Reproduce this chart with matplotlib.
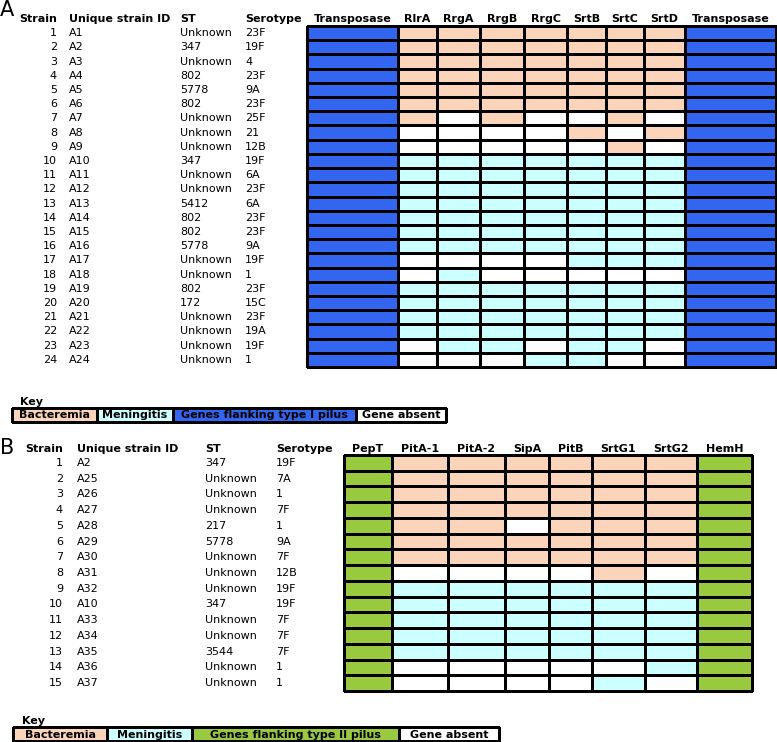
#!/usr/bin/python
# -*- encoding: utf-8 -*-
'''
Pilus gene presence tables (type I and type II pilus), drawn as coloured grids
'''

import numpy as np
import matplotlib
matplotlib.use('Agg')
import matplotlib.pyplot as plt
from matplotlib.colors import ListedColormap

#* Data
# B = bacteremia isolate, M = meningitis isolate, 0 = gene absent, F = flanking gene
genes_a = ['RlrA', 'RrgA', 'RrgB', 'RrgC', 'SrtB', 'SrtC', 'SrtD']
flank_a = 'Transposase'
strain_ids_a = ['A1', 'A2', 'A3', 'A4', 'A5', 'A6', 'A7', 'A8', 'A9', 'A10',
                'A11', 'A12', 'A13', 'A14', 'A15', 'A16', 'A17', 'A18', 'A19',
                'A20', 'A21', 'A22', 'A23', 'A24']
st_a = ['Unknown', '347', 'Unknown', '802', '5778', '802', 'Unknown', 'Unknown',
        'Unknown', '347', 'Unknown', 'Unknown', '5412', '802', '802', '5778',
        'Unknown', 'Unknown', '802', '172', 'Unknown', 'Unknown', 'Unknown',
        'Unknown']
serotype_a = ['23F', '19F', '4', '23F', '9A', '23F', '25F', '21', '12B', '19F',
              '6A', '23F', '6A', '23F', '23F', '9A', '19F', '1', '23F', '15C',
              '23F', '19A', '19F', '1']
presence_a = ['BBBBBBB', 'BBBBBBB', 'BBBBBBB', 'BBBBBBB', 'BBBBBBB', 'BBBBBBB',
              'B0B00B0', '0000B0B', '00000B0',
              'MMMMMMM', 'MMMMMMM', 'MMMMMMM', 'MMMMMMM', 'MMMMMMM', 'MMMMMMM',
              'MMMMMMM', '0000MMM', '0M00000', 'MMMMMMM', 'MMMMMMM', 'MMMMMMM',
              'MMMMMMM', '0MM0MM0', '000MM00']

genes_b = ['PitA-1', 'PitA-2', 'SipA', 'PitB', 'SrtG1', 'SrtG2']
flank_b = ['PepT', 'HemH']
strain_ids_b = ['A2', 'A25', 'A26', 'A27', 'A28', 'A29', 'A30', 'A31', 'A32',
                'A10', 'A33', 'A34', 'A35', 'A36', 'A37']
st_b = ['347', 'Unknown', 'Unknown', 'Unknown', '217', '5778', 'Unknown',
        'Unknown', 'Unknown', '347', 'Unknown', 'Unknown', '3544', 'Unknown',
        'Unknown']
serotype_b = ['19F', '7A', '1', '7F', '1', '9A', '7F', '12B', '19F', '19F',
              '7F', '7F', '7F', '1', '1']
presence_b = ['BBBBBB', 'BBBBBB', 'BBBBBB', 'BBBBBB', 'BB0BBB', 'BBBBBB',
              'BBBBBB', '0000B0', 'MMMMMM', 'MMMMMM', 'MMMMMM', 'MMMMMM',
              'MMMMMM', '00000M', '0000M0']

key_a = ['Bacteremia', 'Meningitis', 'Genes flanking type I pilus', 'Gene absent']
key_b = ['Bacteremia', 'Meningitis', 'Genes flanking type II pilus', 'Gene absent']

#* Style
PEACH = '#FBD4B9'
CYAN = '#CCFFFF'
BLUE = '#3366F0'
GREEN = '#98C93F'
CODES = {'F': 0, 'B': 1, 'M': 2, '0': 3}
FS = 8
LW = 0.75
plt.rc('font', family='DejaVu Sans', size=FS)

fig = plt.figure(figsize=(7.77, 7.42), dpi=100)
ax = fig.add_axes([0, 0, 1, 1])
ax.set_xlim(0, 777)
ax.set_ylim(742, 0)
ax.axis('off')


def draw_grid(codes, x_edges, y_top, y_bottom, flank_colour):
    n_rows = codes.shape[0]
    y_edges = np.linspace(y_top, y_bottom, n_rows + 1)
    cmap = ListedColormap([flank_colour, PEACH, CYAN, 'white'])
    ax.pcolormesh(x_edges, y_edges, codes, cmap=cmap, vmin=-0.5, vmax=3.5,
                  edgecolors='black', linewidth=LW)
    return (y_edges[:-1] + y_edges[1:]) / 2


def draw_table(rows_y, strain_x, id_x, st_x, sero_x, ids, sts, seros, header_y):
    ax.text(strain_x, header_y, 'Strain', ha='right', va='center', weight='bold')
    ax.text(id_x, header_y, 'Unique strain ID', ha='left', va='center', weight='bold')
    ax.text(st_x, header_y, 'ST', ha='left', va='center', weight='bold')
    ax.text(sero_x, header_y, 'Serotype', ha='left', va='center', weight='bold')
    for i, y in enumerate(rows_y):
        ax.text(strain_x, y, str(i + 1), ha='right', va='center')
        ax.text(id_x, y, ids[i], ha='left', va='center')
        ax.text(st_x, y, sts[i], ha='left', va='center')
        ax.text(sero_x, y, seros[i], ha='left', va='center')


def draw_key(labels, x_edges, y_top, y_bottom, flank_colour, key_x):
    cmap = ListedColormap([PEACH, CYAN, flank_colour, 'white'])
    ax.pcolormesh(x_edges, [y_top, y_bottom], [[0, 1, 2, 3]], cmap=cmap,
                  vmin=-0.5, vmax=3.5, edgecolors='black', linewidth=LW)
    ax.text(key_x, y_top - 6, 'Key', ha='left', va='center', weight='bold')
    for i, lab in enumerate(labels):
        ax.text((x_edges[i] + x_edges[i + 1]) / 2, (y_top + y_bottom) / 2 + 0.5,
                lab, ha='center', va='center', weight='bold')


#* Panel A
cols_a = [flank_a] + genes_a + [flank_a]
codes_a = np.array([[CODES[c] for c in 'F' + row + 'F'] for row in presence_a])
x_edges_a = [307, 398, 437, 480, 524, 567, 606, 644, 685, 776]
rows_a = draw_grid(codes_a, x_edges_a, 26, 367, BLUE)
for i, name in enumerate(cols_a):
    ax.text((x_edges_a[i] + x_edges_a[i + 1]) / 2, 19, name, ha='center',
            va='center', weight='bold')
draw_table(rows_a, 57, 69, 180, 245, strain_ids_a, st_a, serotype_a, 19)
ax.text(0, 10, 'A', ha='left', va='center', fontsize=15)
draw_key(key_a, [12, 97, 173, 356, 446], 408, 422, BLUE, 20)

#* Panel B
cols_b = [flank_b[0]] + genes_b + [flank_b[1]]
codes_b = np.array([[CODES[c] for c in 'F' + row + 'F'] for row in presence_b])
x_edges_b = [344, 392, 448, 505, 549, 592, 645, 697, 752]
rows_b = draw_grid(codes_b, x_edges_b, 455, 691, GREEN)
for i, name in enumerate(cols_b):
    ax.text((x_edges_b[i] + x_edges_b[i + 1]) / 2, 449, name, ha='center',
            va='center', weight='bold')
draw_table(rows_b, 63, 77, 205, 276, strain_ids_b, st_b, serotype_b, 449)
ax.text(0, 448, 'B', ha='left', va='center', fontsize=15)
draw_key(key_b, [13, 107, 192, 399, 499], 727, 741, GREEN, 22)

plt.savefig('out.png', dpi=100)
